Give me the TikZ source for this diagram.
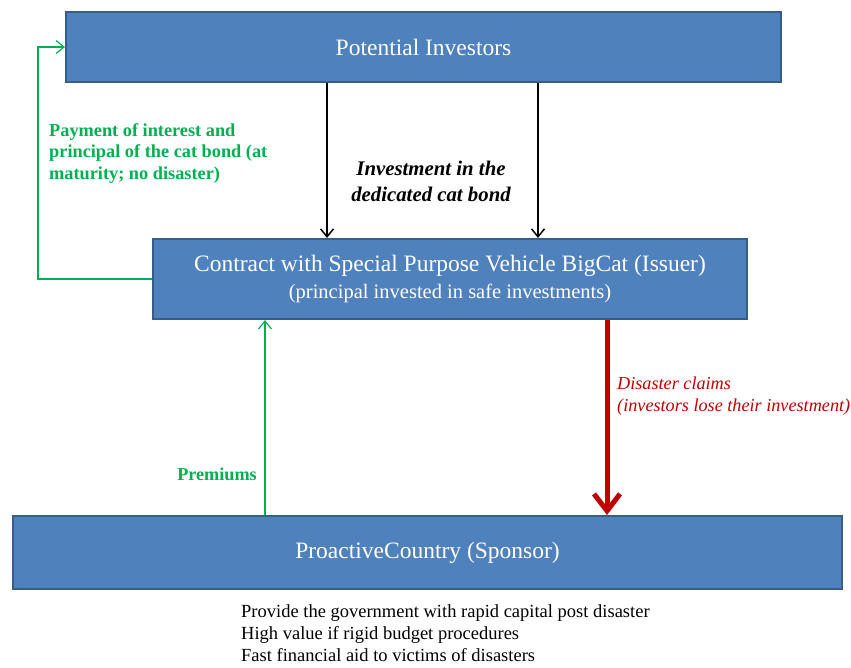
\documentclass[tikz,border=0pt]{standalone}
\usepackage{fontspec}
\setmainfont{Liberation Serif}
\usetikzlibrary{arrows.meta,positioning}
\definecolor{boxblue}{HTML}{4F81BD}
\definecolor{boxedge}{HTML}{385D8A}
\definecolor{paygreen}{HTML}{00B050}
\definecolor{claimred}{HTML}{C00000}
\tikzset{
    block/.style={
           rectangle,
           fill=boxblue,
           draw=boxedge, line width=2pt,
           text=white,
           inner sep=2pt,
           align=center,
           font=\fontsize{23.5}{27}\selectfont,
           },
    note/.style={
           inner sep=0pt,
           align=left,
           },
}

\begin{document}
\begin{tikzpicture}[x=1pt,y=-1pt,>={Straight Barb[length=8pt,width=13pt]}]
 \useasboundingbox (0,0) rectangle (851,667);

 % the three parties
 \node[block,
  minimum width=715pt,
  minimum height=70pt] (Investors) at (423.5,47)
 {Potential Investors};

 \node[block,
  minimum width=594pt,
  minimum height=80pt] (Contract) at (450,279)
 {Contract with Special Purpose Vehicle BigCat (Issuer)\\
  {\fontsize{20.5}{24}\selectfont (principal invested in safe investments)}};

 \node[block,
  minimum width=829pt,
  minimum height=73pt] (Country) at (427.5,552.5)
 {ProactiveCountry (Sponsor)};

 % money flows
 \coordinate (investLeft) at ([xshift=-96.5pt]Investors.south);
 \coordinate (investRight) at ([xshift=114.5pt]Investors.south);
 \coordinate (premBase) at ([xshift=-162.5pt]Country.north);
 \coordinate (claimTop) at ([xshift=157pt]Contract.south);

 \draw[->, line width=1.5pt] (investLeft) -- (investLeft |- Contract.north);
 \draw[->, line width=1.5pt] (investRight) -- (investRight |- Contract.north);
 \draw[->, paygreen, line width=1.2pt] (Contract.west) -- ++(-114,0) |- (Investors.west);
 \draw[->, paygreen, line width=1.2pt] (premBase) -- (premBase |- Contract.south);
 \draw[claimred, line width=5pt, -{Straight Barb[length=17pt,width=26pt]}]
  (claimTop) -- (claimTop |- Country.north);

 % labels of the flows
 \node[note, paygreen, anchor=west,
  font=\bfseries\fontsize{18.3}{21.5}\selectfont] (payLabel) at (49,153.5)
 {Payment of interest and\\principal of the cat bond (at\\maturity; no disaster)};

 \node[note, align=center,
  font=\bfseries\itshape\fontsize{20.8}{26}\selectfont] (investLabel) at (431,181)
 {Investment in the\\dedicated cat bond};

 \node[note, claimred, anchor=west,
  font=\itshape\fontsize{18.2}{22}\selectfont] (claimLabel) at (617,396)
 {Disaster claims\\(investors lose their investment)};

 \node[note, paygreen, anchor=east,
  font=\bfseries\fontsize{18.2}{21}\selectfont] (premLabel) at (257,474)
 {Premiums};

 \node[note, anchor=west,
  font=\fontsize{18.5}{22}\selectfont] (benefits) at (241,633)
 {Provide the government with rapid capital post disaster\\
  High value if rigid budget procedures\\
  Fast financial aid to victims of disasters};

\end{tikzpicture}
\end{document}
